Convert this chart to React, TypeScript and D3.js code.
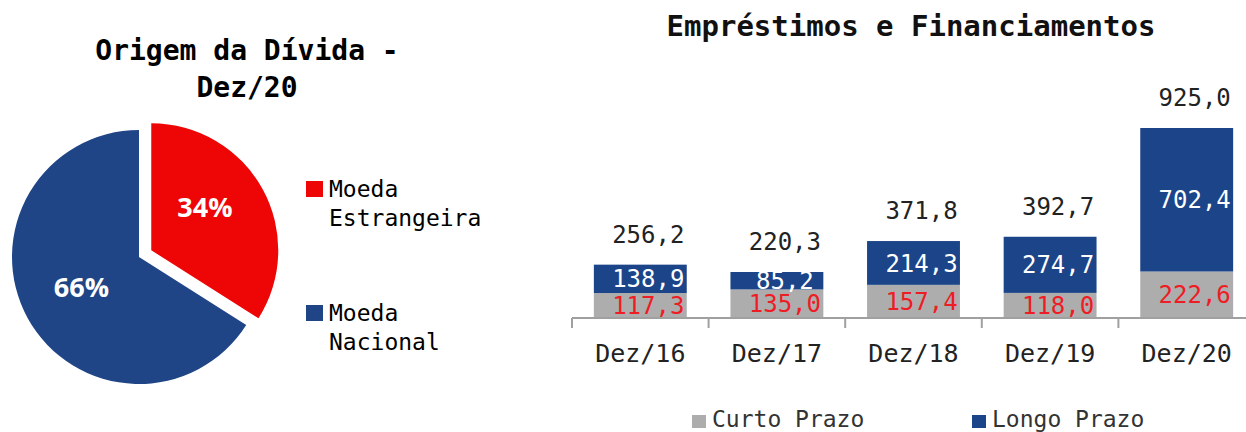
import React from 'react';
import * as d3 from 'd3';

// pie: origem da divida
const pieNames = ['Moeda Estrangeira', 'Moeda Nacional'];
const pieValues = [34, 66];
const pieColors = ['#ee0505', '#204587'];

// bars: emprestimos e financiamentos
const years = ['Dez/16', 'Dez/17', 'Dez/18', 'Dez/19', 'Dez/20'];
const curtoPrazo = [117.3, 135.0, 157.4, 118.0, 222.6];
const longoPrazo = [138.9, 85.2, 214.3, 274.7, 702.4];
const totals = [256.2, 220.3, 371.8, 392.7, 925.0];
const seriesNames = ['Curto Prazo', 'Longo Prazo'];
const seriesColors = ['#adadad', '#1c4488'];

const mono = '"DejaVu Sans Mono", "Liberation Mono", monospace';
const br = d3.formatLocale({ decimal: ',', thousands: '.', grouping: [3], currency: ['R$', ''] });
const fmt = br.format('.1f');

const Pie = () => {
  const cx = 139, cy = 257, r = 127;
  const pie = d3.pie<number>().sort(null).startAngle(0).endAngle(2 * Math.PI);
  const arcs = pie(pieValues);
  const arc = d3.arc<d3.PieArcDatum<number>>().innerRadius(0).outerRadius(r);
  const labelArc = d3.arc<d3.PieArcDatum<number>>().innerRadius(r * 0.5).outerRadius(r * 0.5);
  return (
    <g>
      <text x={247} y={60} textAnchor="middle" fontFamily={mono} fontWeight="bold" fontSize={28} fill="#000">
        Origem da Dívida -
      </text>
      <text x={247} y={97} textAnchor="middle" fontFamily={mono} fontWeight="bold" fontSize={28} fill="#000">
        Dez/20
      </text>
      {arcs.map((d, i) => {
        const mid = (d.startAngle + d.endAngle) / 2;
        const off = i === 0 ? 14 : 0;
        const ox = cx + Math.sin(mid) * off;
        const oy = cy - Math.cos(mid) * off;
        const [lx, ly] = labelArc.centroid(d);
        const nudge = i === 0 ? -12 : 0;
        return (
          <g key={i} transform={`translate(${ox},${oy})`}>
            <path d={arc(d) || ''} fill={pieColors[i]} />
            <text x={lx - 2} y={ly + nudge} dy="0.35em" textAnchor="middle" fill="#fff"
              fontFamily='"Open Sans", "Noto Sans", sans-serif' fontWeight="bold" fontSize={27}>
              {d.data}%
            </text>
          </g>
        );
      })}
      {pieNames.map((n, i) => {
        const words = n.split(' ');
        const y0 = 197 + i * 124;
        return (
          <g key={n}>
            <rect x={306} y={y0 - 16} width={17} height={16} fill={pieColors[i]} />
            {words.map((w, j) => (
              <text key={w} x={329} y={y0 + j * 29} fontFamily={mono} fontSize={23} fill="#000">{w}</text>
            ))}
          </g>
        );
      })}
    </g>
  );
};

const Bars = () => {
  const x = d3.scaleBand<string>().domain(years).range([572, 1255]).paddingInner(0.32).paddingOuter(0.16);
  const y = d3.scaleLinear().domain([0, d3.max(totals) as number]).range([317, 128]);
  const step = x.step();
  const dx = 8;
  const stack = d3.stack<number>().keys(['0', '1']).value((i, k) => (k === '0' ? curtoPrazo[i] : longoPrazo[i]));
  const layers = stack(years.map((_, i) => i));
  const ticks = d3.range(years.length + 1).map((i) => 572 + i * step);
  return (
    <g>
      <text x={911} y={36} textAnchor="middle" fontFamily={mono} fontWeight="bold" fontSize={29} fill="#111">
        Empréstimos e Financiamentos
      </text>
      {layers.map((layer, li) => (
        <g key={li}>
          {layer.map((seg, i) => {
            const bx = x(years[i]) as number;
            const vals = li === 0 ? curtoPrazo : longoPrazo;
            return (
              <g key={i}>
                <rect x={bx} y={y(seg[1])} width={x.bandwidth()} height={y(seg[0]) - y(seg[1])} fill={seriesColors[li]} />
                <text x={bx + x.bandwidth() / 2 + dx} y={(y(seg[0]) + y(seg[1])) / 2} dy="0.36em" textAnchor="middle"
                  fontFamily={mono} fontSize={24} fill={li === 0 ? '#ee1c24' : '#fff'}>
                  {fmt(vals[i])}
                </text>
              </g>
            );
          })}
        </g>
      ))}
      {years.map((yr, i) => (
        <text key={yr} x={(x(yr) as number) + x.bandwidth() / 2 + dx} y={y(curtoPrazo[i] + longoPrazo[i]) - 22}
          textAnchor="middle" fontFamily={mono} fontSize={24} fill="#222">
          {fmt(totals[i])}
        </text>
      ))}
      <line x1={572} x2={1246} y1={318} y2={318} stroke="#a0a0a0" strokeWidth={2} />
      {ticks.map((t) => (
        <line key={t} x1={t} x2={t} y1={318} y2={328} stroke="#a0a0a0" strokeWidth={2} />
      ))}
      {years.map((yr) => (
        <text key={yr} x={(x(yr) as number) + x.bandwidth() / 2} y={362} textAnchor="middle"
          fontFamily={mono} fontSize={25} fill="#222">
          {yr}
        </text>
      ))}
      {seriesNames.map((n, i) => (
        <g key={n}>
          <rect x={692 + i * 280} y={415} width={14} height={13} fill={seriesColors[i]} />
          <text x={712 + i * 280} y={427} fontFamily={mono} fontSize={23} fill="#333">{n}</text>
        </g>
      ))}
    </g>
  );
};

export default function App() {
  return (
    <svg width={1246} height={432} style={{ position: 'absolute', left: 0, top: 0, background: '#fff' }}>
      <Pie />
      <Bars />
    </svg>
  );
}
